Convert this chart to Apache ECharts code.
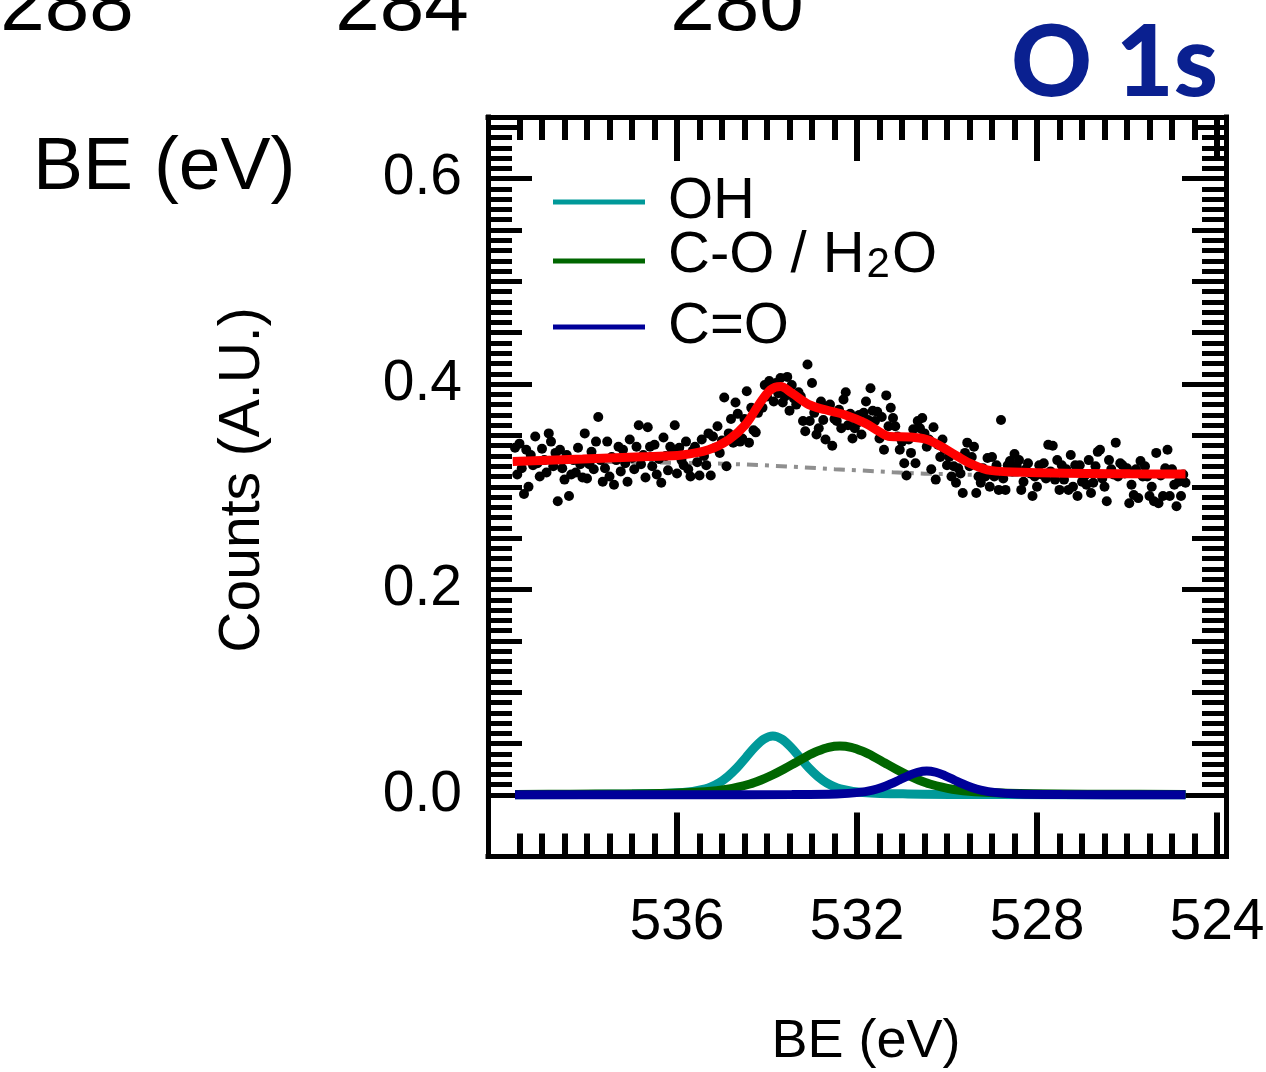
<!DOCTYPE html>
<html>
<head>
<meta charset="utf-8">
<script src="https://cdn.jsdelivr.net/npm/echarts@6/dist/echarts.min.js"></script>
<style>html,body{margin:0;padding:0;background:#fff}#chart{width:1266px;height:1072px}</style>
</head>
<body>
<div id="chart"></div>
<script>
// ---------- DATA ----------
// measured points: binding energy grid starts at 539.6 eV, 0.05 eV spacing, decreasing
const beStart = 539.6;
const beStep = 0.05;
const counts = [
 0.338,0.312,0.342,0.318,0.293,0.336,0.300,0.331,0.321,0.349,
 0.323,0.310,0.337,0.326,0.314,0.352,0.344,0.320,0.333,0.286,
 0.336,0.318,0.307,0.331,0.291,0.312,0.326,0.314,0.338,0.322,
 0.309,0.352,0.308,0.322,0.334,0.317,0.344,0.368,0.326,0.305,
 0.318,0.344,0.310,0.329,0.302,0.326,0.339,0.315,0.336,0.323,
 0.305,0.346,0.328,0.317,0.339,0.360,0.322,0.331,0.309,0.358,
 0.339,0.320,0.341,0.312,0.327,0.304,0.348,0.330,0.316,0.339,
 0.333,0.360,0.313,0.338,0.326,0.321,0.344,0.317,0.310,0.335,
 0.339,0.324,0.311,0.346,0.330,0.321,0.352,0.311,0.349,0.338,
 0.359,0.333,0.345,0.387,0.320,0.352,0.366,0.343,0.382,0.371,
 0.344,0.347,0.366,0.393,0.343,0.377,0.355,0.353,0.372,0.380,
 0.377,0.399,0.388,0.403,0.396,0.383,0.401,0.391,0.406,0.382,
 0.388,0.407,0.374,0.399,0.386,0.380,0.392,0.388,0.364,0.354,
 0.419,0.364,0.401,0.372,0.351,0.357,0.383,0.365,0.346,0.378,
 0.380,0.340,0.366,0.364,0.375,0.357,0.385,0.392,0.360,0.371,
 0.347,0.357,0.362,0.370,0.351,0.372,0.383,0.365,0.396,0.374,
 0.364,0.373,0.347,0.368,0.336,0.389,0.359,0.377,0.367,0.359,
 0.349,0.336,0.344,0.323,0.311,0.346,0.333,0.356,0.323,0.364,
 0.357,0.367,0.352,0.339,0.346,0.317,0.358,0.307,0.341,0.329,
 0.346,0.336,0.321,0.329,0.310,0.320,0.304,0.318,0.313,0.294,
 0.333,0.343,0.320,0.329,0.339,0.294,0.310,0.304,0.318,0.310,
 0.328,0.300,0.329,0.310,0.321,0.297,0.365,0.308,0.297,0.321,
 0.325,0.315,0.332,0.320,0.326,0.297,0.305,0.317,0.323,0.313,
 0.291,0.310,0.300,0.321,0.312,0.323,0.308,0.341,0.315,0.340,
 0.307,0.326,0.297,0.321,0.307,0.317,0.297,0.331,0.300,0.321,
 0.291,0.321,0.305,0.310,0.302,0.326,0.294,0.304,0.320,0.334,
 0.336,0.308,0.300,0.286,0.326,0.317,0.312,0.343,0.310,0.323,
 0.321,0.313,0.318,0.284,0.302,0.292,0.317,0.289,0.325,0.310,
 0.320,0.310,0.291,0.300,0.286,0.333,0.284,0.311,0.291,0.318,
 0.336,0.291,0.317,0.302,0.281,0.305,0.291,0.312,0.304
];

// overall fit (red)
const fitBE  = [539.65,538.1,536.63,535.89,535.3,534.85,534.48,534.18,533.92,533.7,533.44,533.07,532.7,532.26,531.82,531.48,531.27,530.82,530.45,530.16,529.78,529.42,529.04,528.16,525.93,524.7];
const fitVal = [0.3247,0.327,0.3295,0.331,0.336,0.3458,0.3604,0.380,0.3945,0.3977,0.391,0.380,0.375,0.370,0.362,0.353,0.349,0.3485,0.346,0.340,0.330,0.3215,0.316,0.314,0.3126,0.3124];

// background (grey dash-dot)
const bgBE  = [539.6,538,537,535.8,535,534.2,533.55,532.5,531.9,531.2,530.5,529.6,528.5,526.5,524.7];
const bgVal = [0.3245,0.3243,0.3240,0.3232,0.3225,0.3212,0.3198,0.3172,0.3159,0.3142,0.3128,0.3118,0.3116,0.3118,0.3120];

// component OH
const ohBE  = [539.6,537,535.87,535.37,535.07,534.87,534.67,534.47,534.27,534.07,533.87,533.67,533.47,533.27,533.07,532.87,532.67,532.37,531.87,530.87,528.87,524.7];
const ohVal = [0.0003,0.0009,0.0025,0.0060,0.0117,0.0180,0.0263,0.0364,0.0465,0.0544,0.0575,0.0544,0.0465,0.0364,0.0263,0.0180,0.0117,0.0060,0.0025,0.0010,0.0004,0.0001];

// component C-O / H2O
const coBE  = [539.6,538.38,536.38,535.38,534.88,534.38,534.13,533.88,533.63,533.38,533.13,532.88,532.63,532.38,532.13,531.88,531.63,531.38,531.13,530.88,530.63,530.38,529.88,529.38,528.38,526.38,524.7];
const coVal = [0.0005,0.0007,0.0014,0.0031,0.0056,0.0107,0.0146,0.0194,0.0250,0.0311,0.0373,0.0426,0.0464,0.0477,0.0464,0.0426,0.0373,0.0311,0.0250,0.0194,0.0146,0.0107,0.0056,0.0031,0.0014,0.0007,0.0005];

// component C=O
const cdBE  = [539.6,535.45,533.45,532.45,531.95,531.65,531.45,531.25,531.05,530.85,530.65,530.45,530.25,530.05,529.85,529.65,529.45,529.25,528.95,528.45,527.45,525.45,524.7];
const cdVal = [0.0001,0.0002,0.0004,0.0010,0.0025,0.0048,0.0073,0.0107,0.0148,0.0189,0.0221,0.0234,0.0221,0.0189,0.0148,0.0107,0.0073,0.0048,0.0025,0.0010,0.0004,0.0002,0.0001];

// tick labels
const xTickLabels = [536, 532, 528, 524];
const yTickLabels = [0, 0.2, 0.4, 0.6];

// ---------- BUILD ----------
const FONT = '"Liberation Sans", Arial, Helvetica, sans-serif';
function seq(a, step, n) { const r = []; for (let k = 0; k <= n; k++) r.push(+(a + k * step).toFixed(4)); return r; }
const xMinor = seq(524, 0.5, 31);      // 524 .. 539.5
const yMinor = seq(0, 0.01, 66);       // 0 .. 0.66
const yMid = seq(0.05, 0.05, 12);      // 0.05 .. 0.65

const pts = counts.map((v, i) => [+(beStart - i * beStep).toFixed(2), v]);
const zip = (a, b) => a.map((x, i) => [x, b[i]]);

const XMIN = 523.8, XMAX = 540.2, YMIN = -0.06, YMAX = 0.66;

function xAx(pos, ticks, len, withLine, withLabel) {
  return {
    type: 'value', position: pos, min: XMIN, max: XMAX, inverse: true,
    axisLine: { show: withLine, onZero: false, lineStyle: { color: '#000', width: 5, cap: 'square' } },
    axisTick: { show: true, inside: true, length: len, customValues: ticks, lineStyle: { color: '#000', width: 6 } },
    axisLabel: withLabel ? { show: true, customValues: xTickLabels, margin: 38, fontSize: 57, fontFamily: FONT, color: '#000' } : { show: false },
    splitLine: { show: false }
  };
}
function yAx(pos, ticks, len, withLine, withLabel) {
  return {
    type: 'value', position: pos, min: YMIN, max: YMAX,
    axisLine: { show: withLine, onZero: false, lineStyle: { color: '#000', width: 5, cap: 'square' } },
    axisTick: { show: true, inside: true, length: len, customValues: ticks, lineStyle: { color: '#000', width: 5 } },
    axisLabel: withLabel ? { show: true, customValues: yTickLabels, margin: 26, padding: [7, 0, 0, 0], fontSize: 57, fontFamily: FONT, color: '#000', formatter: v => (+v).toFixed(1) } : { show: false },
    splitLine: { show: false }
  };
}

const chart = echarts.init(document.getElementById('chart'), null, { renderer: 'canvas' });

const legendText = { fontSize: 58, fontFamily: FONT, color: '#000', lineHeight: 60, padding: [0, 0, 10, 18] };

chart.setOption({
  animation: false,
  backgroundColor: '#fff',
  grid: { left: 488, right: 40, top: 117, bottom: 215.4, containLabel: false, outerBoundsMode: 'none' },
  xAxis: [
    xAx('bottom', xTickLabels, 44, true, true),
    xAx('bottom', xMinor, 23, false, false),
    xAx('top', xTickLabels, 44, true, false),
    xAx('top', xMinor, 23, false, false)
  ],
  yAxis: [
    yAx('left', yTickLabels, 44, true, true),
    yAx('left', yMid, 34, false, false),
    yAx('left', yMinor, 24, false, false),
    yAx('right', yTickLabels, 44, true, false),
    yAx('right', yMid, 34, false, false),
    yAx('right', yMinor, 24, false, false)
  ],
  legend: [
    { left: 548, top: 162, orient: 'vertical', itemWidth: 92, itemHeight: 5, selectedMode: false,
      data: [{ name: 'OH', icon: 'rect', itemStyle: { color: '#009999' } }], textStyle: legendText },
    { left: 548, top: 221, orient: 'vertical', itemWidth: 92, itemHeight: 5, selectedMode: false,
      data: [{ name: 'C-O / H2O', icon: 'rect', itemStyle: { color: '#006600' } }],
      formatter: () => '{a|C-O / H}{s|2}{a|O}',
      textStyle: Object.assign({}, legendText, { rich: {
        a: { fontSize: 58, fontFamily: FONT, color: '#000', lineHeight: 60 },
        s: { fontSize: 42, fontFamily: FONT, color: '#000', lineHeight: 30, verticalAlign: 'bottom', padding: [0, 2, 0, 2] }
      } }) },
    { left: 548, top: 287, orient: 'vertical', itemWidth: 92, itemHeight: 5, selectedMode: false,
      data: [{ name: 'C=O', icon: 'rect', itemStyle: { color: '#000099' } }], textStyle: legendText }
  ],
  graphic: [
    { type: 'text', x: 67, y: 8, style: { text: '288', fontSize: 80, fontFamily: FONT, fill: '#000', align: 'center', verticalAlign: 'middle' } },
    { type: 'text', x: 402, y: 8, style: { text: '284', fontSize: 80, fontFamily: FONT, fill: '#000', align: 'center', verticalAlign: 'middle' } },
    { type: 'text', x: 737, y: 8, style: { text: '280', fontSize: 80, fontFamily: FONT, fill: '#000', align: 'center', verticalAlign: 'middle' } },
    { type: 'text', x: 33, y: 168, style: { text: 'BE (eV)', fontSize: 75, fontFamily: FONT, fill: '#000', align: 'left', verticalAlign: 'middle' } },
    { type: 'text', x: 1218, y: 64, style: { text: 'O 1s', fontSize: 100, fontWeight: 900, fontFamily: 'Lato, "Noto Sans", sans-serif', fill: '#0a2090', align: 'right', verticalAlign: 'middle' } },
    { type: 'text', x: 243, y: 480, rotation: Math.PI / 2, style: { text: 'Counts (A.U.)', fontSize: 57, fontFamily: FONT, fill: '#000', align: 'center', verticalAlign: 'middle' } },
    { type: 'text', x: 866, y: 1042, style: { text: 'BE (eV)', fontSize: 54, fontFamily: FONT, fill: '#000', align: 'center', verticalAlign: 'middle' } }
  ],
  series: [
    { name: 'background', type: 'line', data: zip(bgBE, bgVal), showSymbol: false, symbol: 'none', silent: true,
      lineStyle: { color: '#8f8f8f', width: 4, type: [11, 7, 4, 7] }, z: 1 },
    { name: 'data', type: 'scatter', data: pts, symbol: 'circle', symbolSize: 10,
      itemStyle: { color: '#000', opacity: 1 }, z: 2 },
    { name: 'fit', type: 'line', data: zip(fitBE, fitVal), smooth: 0.35, symbol: 'none',
      lineStyle: { color: '#ff0000', width: 9 }, z: 3 },
    { name: 'OH', type: 'line', data: zip(ohBE, ohVal), smooth: 0.35, symbol: 'none',
      itemStyle: { color: '#009999' }, lineStyle: { color: '#009999', width: 9 }, z: 4 },
    { name: 'C-O / H2O', type: 'line', data: zip(coBE, coVal), smooth: 0.35, symbol: 'none',
      itemStyle: { color: '#006600' }, lineStyle: { color: '#006600', width: 9 }, z: 5 },
    { name: 'C=O', type: 'line', data: zip(cdBE, cdVal), smooth: 0.35, symbol: 'none',
      itemStyle: { color: '#000099' }, lineStyle: { color: '#000099', width: 9 }, z: 6 }
  ]
});
</script>
</body>
</html>
